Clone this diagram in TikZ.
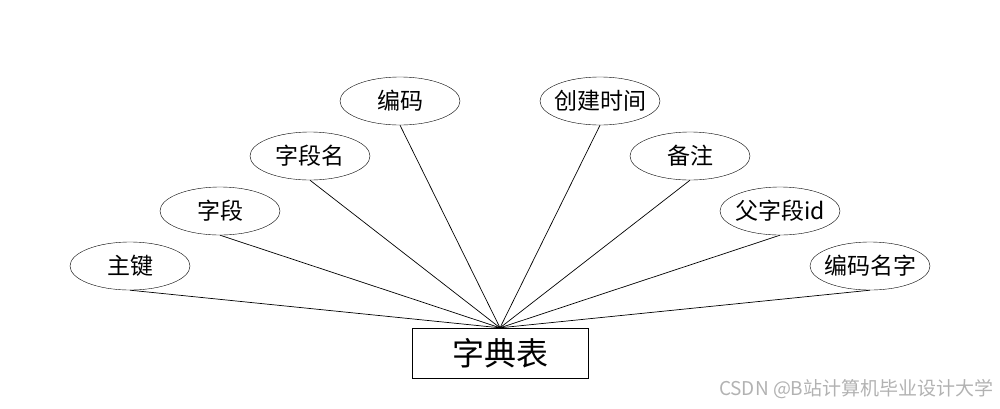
\documentclass[tikz,border=0pt]{standalone}
\usepackage{fontspec}
\setmainfont{Noto Sans CJK SC}
\newfontfamily\wmfont{Noto Sans CJK SC}
\usetikzlibrary{shapes.geometric}

\begin{document}
\begin{tikzpicture}[
    x=1pt, y=-1pt,
    attr/.style={
        draw, ellipse, minimum width=120pt, minimum height=48pt,
        inner xsep=-6pt, inner ysep=0pt, font=\fontsize{23}{26}\selectfont
    },
    entity/.style={
        draw, minimum width=176pt, minimum height=50pt,
        inner sep=0pt, font=\fontsize{32}{36}\selectfont
    },
    link/.style={line width=0.7pt},
]
\useasboundingbox (0,0) rectangle (1000,408);

% Entity
\node[entity] (dict) at (500,353) {字典表};

% Attributes
\node[attr] (pk)    at (130,266) {主键};
\node[attr] (fld)   at (220,211) {字段};
\node[attr] (fname) at (310,156) {字段名};
\node[attr] (code)  at (400,101) {编码};
\node[attr] (ctime) at (600,101) {创建时间};
\node[attr] (note)  at (690,156) {备注};
\node[attr] (pid)   at (780,211) {父字段id};
\node[attr] (cname) at (870,266) {编码名字};

% Links
\foreach \a in {pk, fld, fname, code, ctime, note, pid, cname}
    \draw[link] (\a.south) -- (dict.north);

% Watermark
\node[anchor=east, text=black!30, font=\wmfont\fontsize{19}{21}\selectfont]
    (wm) at (997,389) {CSDN @B站计算机毕业设计大学};

\end{tikzpicture}
\end{document}
